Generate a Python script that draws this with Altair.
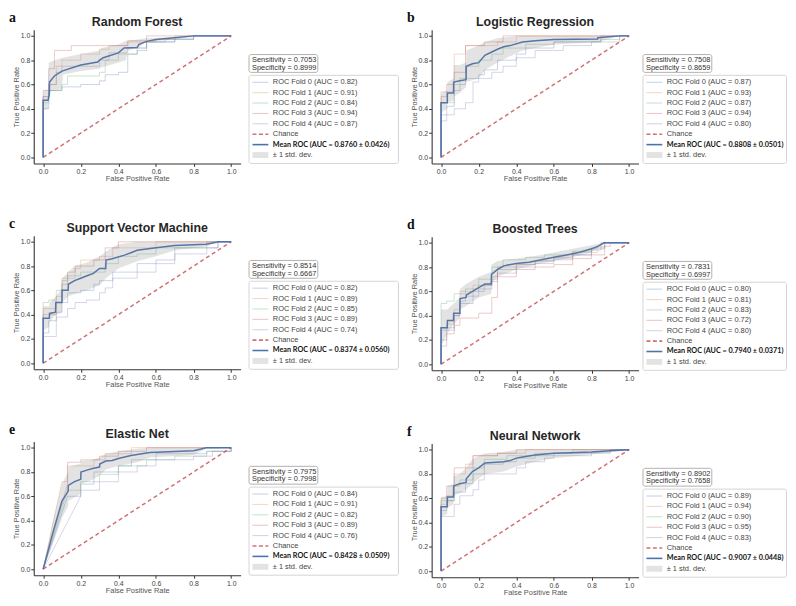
import altair as alt
import pandas as pd

# ---------------- data ----------------
MODELS = ["Random Forest", "Logistic Regression", "Support Vector Machine",
          "Boosted Trees", "Elastic Net", "Neural Network"]
LETTERS = ["a", "b", "c", "d", "e", "f"]
SENS = [0.7053, 0.7508, 0.8514, 0.7831, 0.7975, 0.8902]
SPEC = [0.8999, 0.8659, 0.6667, 0.6997, 0.7998, 0.7658]
FOLD_AUC = [[0.82, 0.91, 0.84, 0.94, 0.87],
            [0.87, 0.93, 0.87, 0.94, 0.80],
            [0.82, 0.89, 0.85, 0.89, 0.74],
            [0.80, 0.81, 0.83, 0.72, 0.80],
            [0.84, 0.91, 0.82, 0.89, 0.76],
            [0.89, 0.94, 0.90, 0.95, 0.83]]
MEAN_AUC = [0.8760, 0.8808, 0.8374, 0.7940, 0.8428, 0.9007]
STD_AUC = [0.0426, 0.0501, 0.0560, 0.0371, 0.0509, 0.0448]
TICKS = [0.0, 0.2, 0.4, 0.6, 0.8, 1.0]
CHANCE_FPR = [0.0, 1.0]
CHANCE_TPR = [0.0, 1.0]

# mean ROC curves (fpr, tpr)
rf_mean = [(0, 0), (0, 0.47), (0.026, 0.47), (0.033, 0.52), (0.034, 0.62), (0.06, 0.67), (0.10, 0.71),
           (0.2, 0.76), (0.29, 0.785), (0.30, 0.80), (0.32, 0.82), (0.4, 0.86), (0.43, 0.90),
           (0.5, 0.905), (0.51, 0.93), (0.55, 0.955), (0.6, 0.97), (0.67, 0.98), (0.8, 1.0), (1.0, 1.0)]
lr_mean = [(0, 0), (0, 0.45), (0.033, 0.45), (0.034, 0.53), (0.066, 0.53), (0.067, 0.62), (0.1, 0.63),
           (0.133, 0.64), (0.134, 0.75), (0.167, 0.77), (0.2, 0.78), (0.233, 0.84), (0.267, 0.865),
           (0.3, 0.89), (0.333, 0.91), (0.367, 0.92), (0.433, 0.95), (0.5, 0.96), (0.6, 0.97),
           (0.833, 0.975), (0.834, 0.985), (0.95, 1.0), (1, 1)]
svm_mean = [(0, 0), (0, 0.37), (0.033, 0.37), (0.034, 0.41), (0.066, 0.42), (0.067, 0.50), (0.1, 0.50),
            (0.101, 0.60), (0.133, 0.60), (0.134, 0.65), (0.167, 0.68), (0.2, 0.70), (0.233, 0.72),
            (0.267, 0.74), (0.3, 0.78), (0.333, 0.78), (0.334, 0.85), (0.367, 0.86), (0.433, 0.89),
            (0.467, 0.91), (0.5, 0.93), (0.6, 0.95), (0.7, 0.97), (0.867, 0.98), (0.933, 1.0), (1, 1)]
bt_mean = [(0, 0), (0, 0.30), (0.033, 0.30), (0.034, 0.36), (0.066, 0.36), (0.067, 0.42), (0.1, 0.42),
           (0.101, 0.54), (0.133, 0.55), (0.134, 0.57), (0.167, 0.60), (0.2, 0.63), (0.233, 0.66),
           (0.267, 0.66), (0.268, 0.74), (0.3, 0.78), (0.333, 0.81), (0.4, 0.83), (0.467, 0.84),
           (0.533, 0.86), (0.6, 0.88), (0.667, 0.90), (0.733, 0.92), (0.8, 0.95), (0.833, 0.97),
           (0.867, 1.0), (1, 1)]
en_mean = [(0, 0), (0.05, 0.29), (0.1, 0.56), (0.133, 0.64), (0.134, 0.69), (0.167, 0.72), (0.2, 0.74),
           (0.201, 0.80), (0.233, 0.815), (0.267, 0.83), (0.3, 0.84), (0.301, 0.865), (0.333, 0.89),
           (0.367, 0.895), (0.4, 0.91), (0.467, 0.935), (0.567, 0.96), (0.8, 0.975), (0.867, 1.0), (1, 1)]
nn_mean = [(0, 0), (0, 0.53), (0.033, 0.53), (0.034, 0.61), (0.066, 0.61), (0.067, 0.70), (0.1, 0.72),
           (0.133, 0.73), (0.134, 0.76), (0.167, 0.82), (0.2, 0.85), (0.233, 0.89), (0.333, 0.90),
           (0.367, 0.91), (0.4, 0.93), (0.433, 0.94), (0.5, 0.955), (0.6, 0.97), (0.8, 0.98),
           (0.9, 0.99), (1, 1)]

# +/- 1 std band (fpr, lower, upper)
rf_band = [(0, 0.39, 0.55), (0.026, 0.40, 0.56), (0.03, 0.54, 0.78), (0.1, 0.56, 0.82), (0.105, 0.68, 0.82),
           (0.2, 0.71, 0.85), (0.3, 0.73, 0.88), (0.31, 0.74, 0.90), (0.4, 0.78, 0.93), (0.44, 0.80, 0.96),
           (0.45, 0.88, 0.96), (0.5, 0.90, 0.97), (0.55, 0.95, 0.98), (0.7, 0.97, 0.99), (0.8, 1.0, 1.0),
           (1.0, 1.0, 1.0)]
lr_band = [(0, 0.37, 0.53), (0.033, 0.40, 0.55), (0.034, 0.45, 0.62), (0.066, 0.47, 0.65), (0.067, 0.50, 0.76),
           (0.1, 0.53, 0.76), (0.133, 0.58, 0.78), (0.134, 0.62, 0.88), (0.2, 0.65, 0.92), (0.233, 0.72, 0.95),
           (0.3, 0.78, 0.98), (0.35, 0.82, 0.99), (0.433, 0.88, 1.0), (0.6, 0.93, 1.0), (0.833, 0.95, 1.0),
           (0.95, 1.0, 1.0), (1, 1, 1)]
svm_band = [(0, 0.27, 0.47), (0.033, 0.30, 0.47), (0.034, 0.34, 0.50), (0.067, 0.40, 0.55), (0.1, 0.42, 0.62),
            (0.101, 0.50, 0.70), (0.133, 0.55, 0.75), (0.167, 0.57, 0.80), (0.233, 0.60, 0.83),
            (0.3, 0.64, 0.88), (0.333, 0.70, 0.92), (0.4, 0.78, 0.98), (0.5, 0.84, 1.0), (0.6, 0.88, 1.0),
            (0.7, 0.93, 1.0), (0.867, 0.96, 1.0), (0.933, 1.0, 1.0), (1, 1, 1)]
bt_band = [(0, 0.15, 0.45), (0.033, 0.25, 0.45), (0.067, 0.33, 0.50), (0.1, 0.38, 0.55), (0.101, 0.45, 0.62),
           (0.133, 0.48, 0.66), (0.2, 0.55, 0.72), (0.267, 0.58, 0.76), (0.268, 0.66, 0.82), (0.3, 0.72, 0.85),
           (0.4, 0.78, 0.87), (0.5, 0.82, 0.89), (0.6, 0.85, 0.92), (0.7, 0.88, 0.95), (0.8, 0.92, 0.98),
           (0.867, 1.0, 1.0), (1, 1, 1)]
en_band = [(0, 0, 0), (0.05, 0.20, 0.38), (0.1, 0.42, 0.70), (0.133, 0.52, 0.80), (0.134, 0.56, 0.84),
           (0.2, 0.62, 0.87), (0.201, 0.70, 0.89), (0.267, 0.74, 0.90), (0.3, 0.77, 0.92), (0.333, 0.82, 0.95),
           (0.4, 0.85, 0.97), (0.5, 0.88, 0.99), (0.567, 0.92, 1.0), (0.8, 0.94, 1.0), (0.867, 0.99, 1.0),
           (1, 1, 1)]
nn_band = [(0, 0.45, 0.61), (0.033, 0.47, 0.62), (0.034, 0.52, 0.70), (0.066, 0.55, 0.72), (0.067, 0.62, 0.78),
           (0.1, 0.64, 0.80), (0.133, 0.67, 0.85), (0.167, 0.72, 0.92), (0.2, 0.76, 0.95), (0.233, 0.80, 0.97),
           (0.333, 0.82, 0.98), (0.4, 0.86, 1.0), (0.5, 0.90, 1.0), (0.6, 0.93, 1.0), (0.8, 0.96, 1.0),
           (0.9, 0.98, 1.0), (1, 1, 1)]

# per-fold ROC staircases: (fpr, tpr) corner points, step-after
rf_folds = [
    [(0, 0), (0, 0.40), (0.03, 0.55), (0.1, 0.58), (0.2, 0.60), (0.3, 0.63), (0.33, 0.68), (0.4, 0.70),
     (0.45, 0.85), (0.5, 0.88), (0.55, 0.95), (0.7, 0.97), (0.8, 1.0), (1, 1)],
    [(0, 0), (0, 0.55), (0.03, 0.60), (0.07, 0.75), (0.1, 0.80), (0.2, 0.85), (0.3, 0.89), (0.35, 0.92),
     (0.45, 0.95), (0.6, 0.97), (0.7, 1.0), (1, 1)],
    [(0, 0), (0, 0.45), (0.03, 0.55), (0.1, 0.60), (0.13, 0.67), (0.3, 0.70), (0.33, 0.80), (0.4, 0.85),
     (0.5, 0.90), (0.55, 0.95), (0.65, 0.97), (0.8, 1.0), (1, 1)],
    [(0, 0), (0, 0.50), (0.03, 0.73), (0.06, 0.88), (0.15, 0.92), (0.45, 0.96), (0.55, 1.0), (1, 1)],
    [(0, 0), (0, 0.50), (0.03, 0.60), (0.07, 0.70), (0.1, 0.75), (0.3, 0.80), (0.35, 0.86), (0.45, 0.90),
     (0.55, 0.95), (0.7, 0.98), (0.8, 1.0), (1, 1)],
]
lr_folds = [
    [(0, 0), (0, 0.35), (0.03, 0.42), (0.07, 0.55), (0.1, 0.60), (0.13, 0.65), (0.2, 0.68), (0.23, 0.72),
     (0.3, 0.80), (0.4, 0.85), (0.45, 0.90), (0.6, 0.95), (0.85, 1.0), (1, 1)],
    [(0, 0), (0, 0.54), (0.07, 0.85), (0.13, 0.92), (0.3, 0.95), (0.4, 1.0), (1, 1)],
    [(0, 0), (0, 0.45), (0.07, 0.60), (0.1, 0.65), (0.13, 0.75), (0.2, 0.80), (0.27, 0.85), (0.33, 0.90),
     (0.45, 0.93), (0.6, 0.95), (0.85, 0.97), (0.95, 1.0), (1, 1)],
    [(0, 0), (0, 0.50), (0.03, 0.60), (0.07, 0.70), (0.13, 0.92), (0.23, 0.95), (0.33, 1.0), (1, 1)],
    [(0, 0), (0, 0.30), (0.03, 0.35), (0.07, 0.40), (0.13, 0.45), (0.17, 0.62), (0.2, 0.65), (0.27, 0.70),
     (0.33, 0.75), (0.4, 0.82), (0.5, 0.88), (0.65, 0.92), (0.8, 0.95), (0.95, 1.0), (1, 1)],
]
svm_folds = [
    [(0, 0), (0, 0.25), (0.03, 0.35), (0.07, 0.42), (0.1, 0.50), (0.13, 0.58), (0.2, 0.60), (0.27, 0.65),
     (0.3, 0.68), (0.37, 0.75), (0.5, 0.82), (0.6, 0.85), (0.7, 0.95), (0.93, 1.0), (1, 1)],
    [(0, 0), (0, 0.45), (0.07, 0.55), (0.1, 0.70), (0.17, 0.78), (0.2, 0.85), (0.3, 0.88), (0.37, 0.95),
     (0.6, 1.0), (1, 1)],
    [(0, 0), (0, 0.50), (0.03, 0.52), (0.07, 0.60), (0.1, 0.68), (0.13, 0.72), (0.2, 0.75), (0.33, 0.82),
     (0.4, 0.88), (0.5, 0.90), (0.6, 0.95), (0.87, 1.0), (1, 1)],
    [(0, 0), (0, 0.40), (0.07, 0.50), (0.1, 0.65), (0.13, 0.75), (0.17, 0.80), (0.27, 0.85), (0.33, 0.95),
     (0.4, 1.0), (1, 1)],
    [(0, 0), (0, 0.22), (0.07, 0.38), (0.13, 0.45), (0.17, 0.50), (0.23, 0.52), (0.3, 0.58), (0.33, 0.62),
     (0.37, 0.70), (0.5, 0.75), (0.6, 0.82), (0.7, 0.90), (0.87, 0.95), (0.93, 1.0), (1, 1)],
]
bt_folds = [
    [(0, 0), (0, 0.20), (0.03, 0.30), (0.07, 0.40), (0.1, 0.50), (0.17, 0.60), (0.23, 0.65), (0.27, 0.72),
     (0.3, 0.78), (0.4, 0.82), (0.5, 0.85), (0.6, 0.88), (0.7, 0.90), (0.8, 0.95), (0.87, 1.0), (1, 1)],
    [(0, 0), (0, 0.30), (0.03, 0.33), (0.07, 0.45), (0.1, 0.60), (0.17, 0.65), (0.27, 0.70), (0.3, 0.80),
     (0.4, 0.82), (0.5, 0.85), (0.6, 0.87), (0.7, 0.92), (0.83, 0.97), (0.87, 1.0), (1, 1)],
    [(0, 0), (0, 0.50), (0.03, 0.52), (0.07, 0.58), (0.13, 0.62), (0.2, 0.70), (0.27, 0.80), (0.33, 0.86),
     (0.45, 0.88), (0.55, 0.90), (0.7, 0.93), (0.8, 0.96), (0.87, 1.0), (1, 1)],
    [(0, 0), (0, 0.15), (0.03, 0.25), (0.07, 0.32), (0.1, 0.38), (0.2, 0.42), (0.27, 0.55), (0.3, 0.72),
     (0.4, 0.78), (0.5, 0.80), (0.6, 0.82), (0.7, 0.87), (0.8, 0.90), (0.87, 0.97), (0.9, 1.0), (1, 1)],
    [(0, 0), (0, 0.28), (0.07, 0.40), (0.1, 0.52), (0.13, 0.56), (0.2, 0.62), (0.27, 0.68), (0.3, 0.75),
     (0.4, 0.80), (0.5, 0.83), (0.6, 0.86), (0.7, 0.90), (0.8, 0.94), (0.85, 1.0), (1, 1)],
]
# elastic net: first segment is a straight diagonal from the origin
en_folds = [
    [(0, 0), (0.13, 0.60), (0.2, 0.70), (0.27, 0.80), (0.4, 0.85), (0.47, 0.90), (0.6, 0.95), (0.87, 0.97), (1, 1)],
    [(0, 0), (0.1, 0.72), (0.13, 0.85), (0.27, 0.90), (0.33, 0.95), (0.47, 1.0), (1, 1)],
    [(0, 0), (0.13, 0.65), (0.2, 0.72), (0.3, 0.78), (0.4, 0.85), (0.55, 0.90), (0.7, 0.93), (0.87, 0.97), (1, 1)],
    [(0, 0), (0.13, 0.70), (0.13, 0.88), (0.2, 0.90), (0.3, 0.93), (0.4, 0.97), (0.55, 1.0), (1, 1)],
    [(0, 0), (0.2, 0.60), (0.2, 0.65), (0.3, 0.72), (0.4, 0.80), (0.5, 0.85), (0.6, 0.90), (0.8, 0.93),
     (0.9, 0.97), (1, 1)],
]
nn_folds = [
    [(0, 0), (0, 0.50), (0.03, 0.58), (0.07, 0.65), (0.13, 0.72), (0.17, 0.80), (0.23, 0.88), (0.33, 0.90),
     (0.4, 0.93), (0.5, 0.95), (0.6, 0.97), (0.8, 0.98), (0.9, 1.0), (1, 1)],
    [(0, 0), (0, 0.55), (0.03, 0.62), (0.07, 0.80), (0.13, 0.88), (0.17, 0.95), (0.3, 0.97), (0.45, 1.0), (1, 1)],
    [(0, 0), (0, 0.58), (0.07, 0.70), (0.1, 0.75), (0.17, 0.85), (0.23, 0.92), (0.35, 0.95), (0.5, 0.97),
     (0.7, 1.0), (1, 1)],
    [(0, 0), (0, 0.60), (0.03, 0.70), (0.07, 0.85), (0.17, 0.95), (0.3, 0.97), (0.4, 1.0), (1, 1)],
    [(0, 0), (0, 0.45), (0.07, 0.55), (0.1, 0.62), (0.17, 0.67), (0.2, 0.75), (0.23, 0.80), (0.4, 0.85),
     (0.45, 0.90), (0.55, 0.93), (0.6, 0.95), (0.8, 0.97), (0.9, 1.0), (1, 1)],
]

MEANS = [rf_mean, lr_mean, svm_mean, bt_mean, en_mean, nn_mean]
BANDS = [rf_band, lr_band, svm_band, bt_band, en_band, nn_band]
FOLDS = [rf_folds, lr_folds, svm_folds, bt_folds, en_folds, nn_folds]
DIAG_FIRST = [False, False, False, False, True, False]

# ---------------- styles ----------------
FOLD_COLORS = ["#4C72B0", "#DD8452", "#55A868", "#C44E52", "#8172B3"]
MEAN_COLOR = "#4C72B0"
CHANCE_COLOR = "#C44E52"
FONT = "Liberation Sans"
PW, PH = 209, 135


def staircase(pts, diag_first):
    out = [pts[0]]
    px, py = pts[0]
    for k, (x, y) in enumerate(pts[1:]):
        if diag_first and k == 0:
            out.append((x, y))
        else:
            if x != px:
                out.append((x, py))
            if y != py:
                out.append((x, y))
        px, py = x, y
    return out


XS = alt.Scale(domain=[-0.05, 1.05], nice=False, zero=False)
YS = alt.Scale(domain=[-0.05, 1.05], nice=False, zero=False)
XAX = alt.Axis(values=TICKS, format=".1f", title="False Positive Rate")
YAX = alt.Axis(values=TICKS, format=".1f", title="True Positive Rate")


def plot_panel(i):
    rows = []
    for f, pts in enumerate(FOLDS[i]):
        for k, (x, y) in enumerate(staircase(pts, DIAG_FIRST[i])):
            rows.append({"fold": f, "k": k, "fpr": x, "tpr": y, "col": FOLD_COLORS[f]})
    folds_df = pd.DataFrame(rows)
    mean_df = pd.DataFrame([{"k": k, "fpr": x, "tpr": y} for k, (x, y) in enumerate(MEANS[i])])
    band_df = pd.DataFrame([{"fpr": x, "lo": lo, "hi": hi} for (x, lo, hi) in BANDS[i]])
    chance_df = pd.DataFrame({"fpr": CHANCE_FPR, "tpr": CHANCE_TPR})

    x = alt.X("fpr:Q", scale=XS, axis=XAX)
    y = alt.Y("tpr:Q", scale=YS, axis=YAX)

    folds = alt.Chart(folds_df).mark_line(strokeWidth=1, opacity=0.3).encode(
        x=x, y=y, color=alt.Color("col:N", scale=None), detail="fold:N", order="k:Q")
    chance = alt.Chart(chance_df).mark_line(strokeDash=[4, 3], strokeWidth=1.5,
                                            color=CHANCE_COLOR, opacity=0.8).encode(x=x, y=y)
    mean = alt.Chart(mean_df).mark_line(strokeWidth=1.5, color=MEAN_COLOR).encode(x=x, y=y, order="k:Q")
    band = alt.Chart(band_df).mark_area(color="grey", opacity=0.22).encode(
        x=x, y=alt.Y("lo:Q", scale=YS, axis=YAX), y2="hi:Q")
    head = alt.Chart(pd.DataFrame({"letter": [LETTERS[i]], "model": [MODELS[i]]}))
    letter = head.mark_text(
        font="Liberation Serif", fontWeight="bold", fontSize=14, align="left", baseline="middle",
        color="#111").encode(x=alt.value(-25), y=alt.value(-11.5), text="letter:N")
    title = head.mark_text(
        font=FONT, fontWeight="bold", fontSize=12.5, align="center", baseline="middle",
        color="#262626").encode(x=alt.value(PW / 2), y=alt.value(-7.5), text="model:N")
    return alt.layer(folds, chance, mean, band, letter, title).properties(width=PW, height=PH)


SENS_TOP, SENS_BOT, SENS_W = 25, 43, 70
LEG_TOP, LEG_BOT = 46, 135


def legend_panel(i, lw):
    labels = [f"ROC Fold {k} (AUC = {FOLD_AUC[i][k]:.2f})" for k in range(5)] + [
        "Chance", f"Mean ROC (AUC = {MEAN_AUC[i]:.4f}  \u00b1 {STD_AUC[i]:.4f})", "\u00b1 1 std. dev."]
    df = pd.DataFrame({"row": list(range(8)), "label": labels,
                       "col": FOLD_COLORS + [CHANCE_COLOR, MEAN_COLOR, "grey"]})
    yenc = alt.Y("row:Q", scale=alt.Scale(domain=[0, 7], range=[LEG_TOP + 7, LEG_TOP + 80.5]), axis=None)
    one = alt.Chart(pd.DataFrame({"v": [0]}))
    sens_box = one.mark_rect(fill="white", stroke="#a8a8a8", strokeWidth=0.9, cornerRadius=2).encode(
        x=alt.value(0.5), x2=alt.value(SENS_W), y=alt.value(SENS_TOP), y2=alt.value(SENS_BOT))
    leg_box = one.mark_rect(fill="white", stroke="#d0d0d0", strokeWidth=0.9, cornerRadius=2).encode(
        x=alt.value(0.5), x2=alt.value(lw - 0.5), y=alt.value(LEG_TOP), y2=alt.value(LEG_BOT))
    sens_t = one.mark_text(align="left", baseline="middle", font=FONT, fontSize=7.5, color="#333").encode(
        x=alt.value(3.5), y=alt.value(SENS_TOP + 5.5), text=alt.value(f"Sensitivity = {SENS[i]:.4f}"))
    spec_t = one.mark_text(align="left", baseline="middle", font=FONT, fontSize=7.5, color="#333").encode(
        x=alt.value(3.5), y=alt.value(SENS_TOP + 13.3), text=alt.value(f"Specificity = {SPEC[i]:.4f}"))
    base = alt.Chart(df)
    fold_sw = base.transform_filter("datum.row < 5").mark_rule(strokeWidth=1, opacity=0.35).encode(
        x=alt.value(4), x2=alt.value(20), y=yenc, color=alt.Color("col:N", scale=None))
    chance_sw = base.transform_filter("datum.row == 5").mark_rule(
        strokeWidth=1.6, strokeDash=[4, 2.5], color=CHANCE_COLOR, opacity=0.8).encode(
        x=alt.value(4), x2=alt.value(20), y=yenc)
    mean_sw = base.transform_filter("datum.row == 6").mark_rule(strokeWidth=1.6, color=MEAN_COLOR).encode(
        x=alt.value(4), x2=alt.value(20), y=yenc)
    std_sw = base.transform_filter("datum.row == 7").mark_rule(strokeWidth=6, color="grey", opacity=0.22).encode(
        x=alt.value(4), x2=alt.value(20), y=yenc)
    txt = base.transform_filter("datum.row != 6").mark_text(
        align="left", baseline="middle", font=FONT, fontSize=7.5, color="#444").encode(
        x=alt.value(24.5), y=yenc, text="label:N")
    txt_b = base.transform_filter("datum.row == 6").mark_text(
        align="left", baseline="middle", font="Lato", fontWeight="bold", fontSize=7.3, color="#111").encode(
        x=alt.value(24.5), y=yenc, text="label:N")
    return alt.layer(sens_box, leg_box, sens_t, spec_t, fold_sw, chance_sw, mean_sw, std_sw, txt, txt_b).properties(
        width=lw, height=PH)


def panel(i, lw, gap):
    return alt.hconcat(plot_panel(i), legend_panel(i, lw), spacing=gap)


left_col = alt.vconcat(panel(0, 152, 6), panel(2, 152, 6), panel(4, 152, 6), spacing=35)
right_col = alt.vconcat(panel(1, 146, 2), panel(3, 146, 2), panel(5, 146, 2), spacing=36)

chart = alt.hconcat(left_col, right_col, spacing=6).properties(padding=0).configure_view(
    stroke="transparent").configure_axis(
    grid=False, domainColor="#333", domainWidth=1.1, tickColor="#333", tickSize=3, tickWidth=1,
    labelFont=FONT, labelFontSize=7, labelColor="#444", labelPadding=1,
    titleFont=FONT, titleFontSize=7.5, titleColor="#555", titleFontWeight="normal", titlePadding=0)

chart.save("out.html", embed_options={"renderer": "svg", "actions": False})
